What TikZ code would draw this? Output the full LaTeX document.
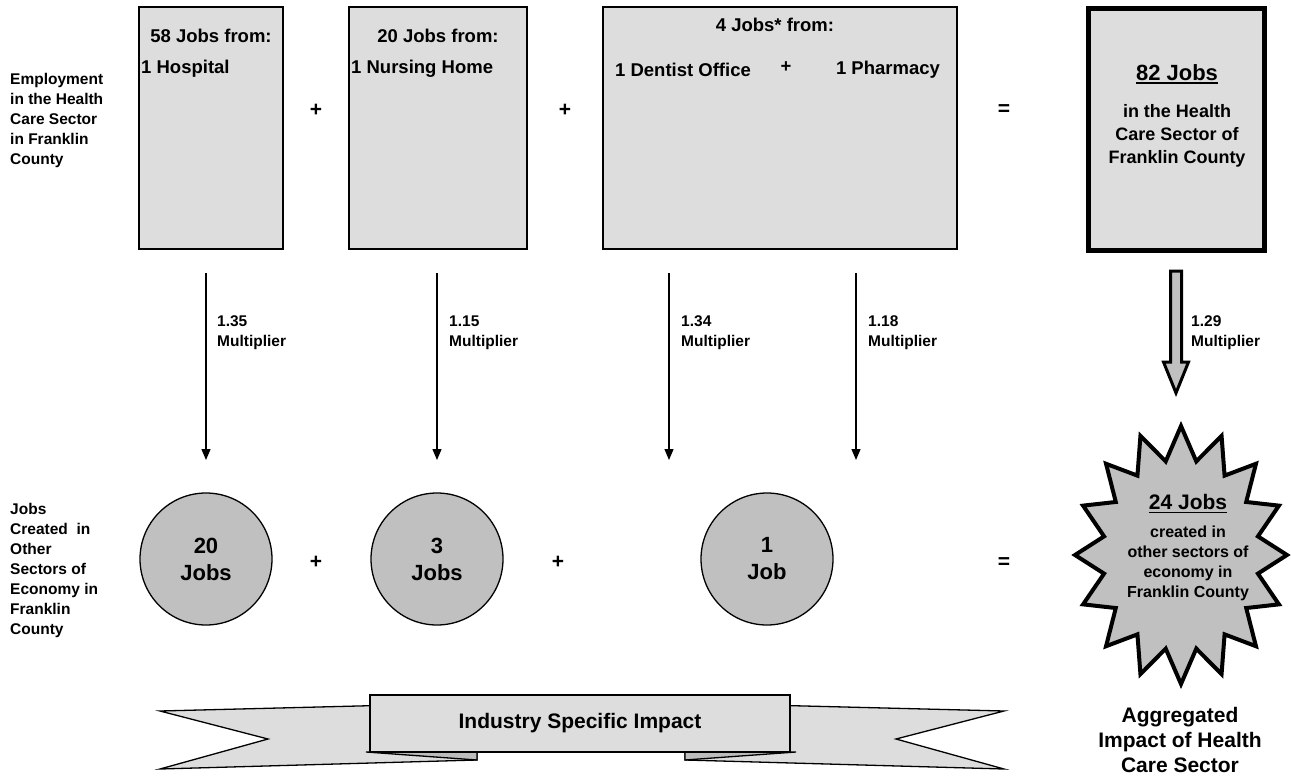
\documentclass[tikz,border=0pt]{standalone}
\usepackage{fontspec}
\setmainfont{Liberation Sans}
\usetikzlibrary{arrows.meta}
\definecolor{boxgray}{HTML}{DDDDDD}
\definecolor{midgray}{HTML}{C0C0C0}
\definecolor{tabgray}{HTML}{BDBDBD}
\newcommand{\setfs}[2]{\fontsize{#1}{#2}\selectfont\bfseries}
\newcommand{\myul}[1]{\setbox0\hbox{#1}\rlap{\rule[-3.5pt]{\wd0}{1.8pt}}\box0}
\begin{document}
\begin{tikzpicture}[x=1pt,y=-1pt,
  boxsty/.style={draw=black, line width=1.3pt, fill=boxgray, inner sep=0pt},
  circsty/.style={circle, draw=black, line width=1.3pt, fill=midgray, minimum size=132pt, inner sep=0pt, align=center, font=\setfs{22}{27}},
  lbl/.style={font=\setfs{15.5}{20}, align=left, inner sep=0pt, anchor=west},
  boxtxt/.style={font=\setfs{18.5}{22}, inner sep=0pt},
  optxt/.style={font=\setfs{21}{24}, inner sep=0pt},
  mularrow/.style={line width=1.3pt, -{Triangle[width=9pt,length=11pt]}},
  ribbonsty/.style={draw=black, line width=1.3pt, fill=boxgray, line join=miter},
  tabsty/.style={draw=black, line width=1.3pt, fill=tabgray},
]
\useasboundingbox (0,0) rectangle (1291,776);

% left labels
\node[lbl] (lab1) at (10,120.5) {Employment\\in the Health\\Care Sector\\in Franklin\\County};
\node[lbl] (lab2) at (10,570.5) {Jobs\\Created\ \ in\\Other\\Sectors of\\Economy in\\Franklin\\County};

% top boxes
\node[boxsty, minimum width=144pt, minimum height=242pt] (b1) at (211,128) {};
\node[boxsty, minimum width=178pt, minimum height=242pt] (b2) at (438,128) {};
\node[boxsty, minimum width=354pt, minimum height=242pt] (b3) at (780,128) {};
\node[draw=black, line width=5pt, fill=boxgray, minimum width=176pt, minimum height=242pt, inner sep=0pt] (b4) at (1176.5,129.5) {};

\node[boxtxt] (t1a) at (211,36) {58 Jobs from:};
\node[boxtxt, anchor=west] (t1b) at (141,69) {1 Hospital};
\node[boxtxt] (t2a) at (438,36) {20 Jobs from:};
\node[boxtxt, anchor=west] (t2b) at (351,69) {1 Nursing Home};
\node[boxtxt] (t3a) at (775,25) {4 Jobs* from:};
\node[boxtxt] (t3b) at (683,70) {1 Dentist Office};
\node[boxtxt] (t3p) at (786,67) {+};
\node[boxtxt] (t3c) at (888,70) {1 Pharmacy};

\node[font=\setfs{22}{26}, inner sep=0pt] (t4a) at (1177,74) {\myul{82 Jobs}};
\node[font=\setfs{18}{23}, inner sep=0pt, align=center] (t4b) at (1177,136) {in the Health\\Care Sector of\\Franklin County};

% operators top
\node[optxt] (p1) at (316,110) {+};
\node[optxt] (p2) at (565,110) {+};
\node[optxt] (e1) at (1004,110) {=};

% arrows
\foreach \n/\x in {a1/206,a2/437,a3/669,a4/856}{
  \coordinate (\n s) at (\x,273);
  \coordinate (\n e) at (\x,460);
}
\draw[mularrow] (a1s) -- (a1e);
\draw[mularrow] (a2s) -- (a2e);
\draw[mularrow] (a3s) -- (a3e);
\draw[mularrow] (a4s) -- (a4e);
\node[lbl] (m1) at (217,333) {1.35\\Multiplier};
\node[lbl] (m2) at (449,333) {1.15\\Multiplier};
\node[lbl] (m3) at (681,333) {1.34\\Multiplier};
\node[lbl] (m4) at (868,333) {1.18\\Multiplier};

% big hollow arrow
\draw[draw=black, line width=3pt, fill=midgray, line join=miter]
  (1170.5,271) -- (1181.5,271) -- (1181.5,362) -- (1188.5,362) -- (1176,393)
  -- (1163.5,362) -- (1170.5,362) -- cycle;
\node[lbl] (m5) at (1191,333) {1.29\\Multiplier};

% circles
\node[circsty] (c1) at (206,559) {20\\Jobs};
\node[circsty] (c2) at (437,559) {3\\Jobs};
\node[circsty] (c3) at (767,559) {1\\Job};
\node[optxt] (p3) at (316,562) {+};
\node[optxt] (p4) at (558,562) {+};
\node[optxt] (e2) at (1004,563) {=};

% star
\draw[draw=black, line width=4pt, fill=midgray, line join=miter, miter limit=4]
  (1181,426) \foreach \k [evaluate=\k as \r using {ifthenelse(mod(\k,2)==0,1,0.74)}] in {1,...,31} {
    -- ({1181+106*\r*cos(90+11.25*\k)},{555-129*\r*sin(90+11.25*\k)}) } -- cycle;
\node[font=\setfs{21}{24}, inner sep=0pt] (s1) at (1188,504) {\myul{24 Jobs}};
\node[font=\setfs{16}{20}, inner sep=0pt, align=center] (s2) at (1188,563) {created in\\other sectors of\\economy in\\Franklin County};

\node[font=\setfs{21}{25}, inner sep=0pt, align=center] (agg) at (1180,740) {Aggregated\\Impact of Health\\Care Sector};

% ribbon
\draw[ribbonsty] (160,711) -- (477,703) -- (477,760) -- (160,769) -- (268,739) -- cycle;
\draw[ribbonsty] (1004,711) -- (685,703) -- (685,760) -- (1004,769) -- (896,739) -- cycle;
\draw[tabsty] (366,752) -- (477,752) -- (477,760) -- cycle;
\draw[tabsty] (796,752) -- (685,752) -- (685,760) -- cycle;
\node[draw=black, line width=1.3pt, fill=boxgray, minimum width=420pt, minimum height=57pt, inner sep=0pt, font=\setfs{21}{24}] (rib) at (580,723.5) {Industry Specific Impact};
\end{tikzpicture}
\end{document}
